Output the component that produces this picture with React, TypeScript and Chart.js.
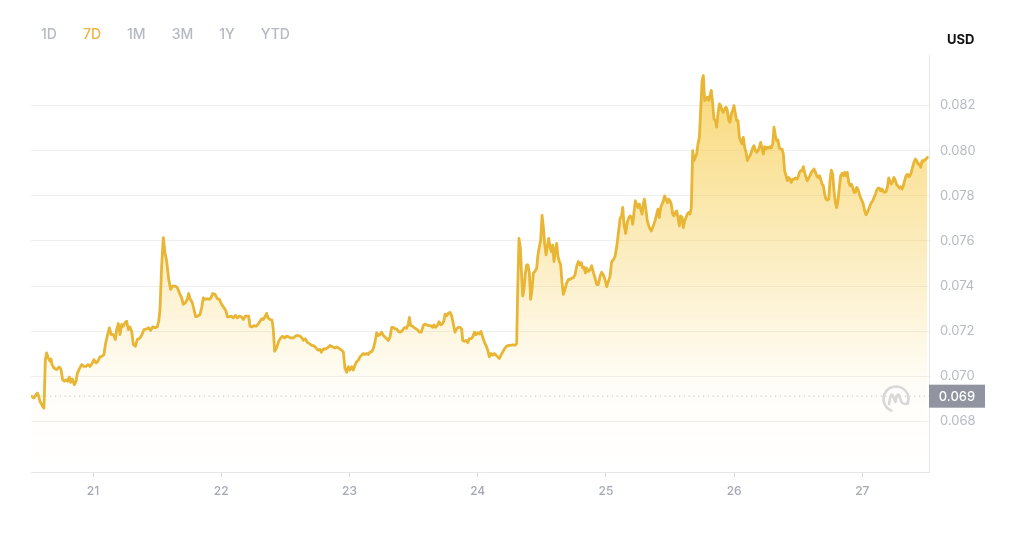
import React, { useEffect, useRef } from "react";
import { Chart, registerables } from "chart.js";

Chart.register(...registerables);

const rangeButtons = ["1D", "7D", "1M", "3M", "1Y", "YTD"];
const activeRange = "7D";
const currency = "USD";
const xTickDays = [21, 22, 23, 24, 25, 26, 27];
const yTickValues = [0.068, 0.07, 0.072, 0.074, 0.076, 0.078, 0.08, 0.082];
const xRange = [20.516, 27.52];
const yRange = [0.06576, 0.08424];
const openPrice = 0.06912;

const seg1Times = [20.521,20.539,20.555,20.565,20.576,20.586,20.607,20.617,20.628,20.638,20.651,20.664,20.672,20.680,20.695,20.716,20.737,20.750,20.763,20.776,20.789,20.802,20.815,20.825,20.838,20.854,20.867,20.877,20.893,20.911,20.929,20.945,20.960,20.976,20.992,21.007,21.023,21.038,21.054,21.070,21.085,21.096,21.111,21.127,21.142,21.158,21.174,21.184,21.197,21.210,21.223,21.236,21.249,21.262,21.275,21.288,21.301,21.314,21.330,21.345,21.366,21.382,21.397,21.418,21.434,21.449,21.465,21.483,21.501,21.512,21.522,21.535,21.548,21.561,21.574,21.590,21.605,21.621,21.642,21.657,21.673,21.691,21.704,21.720,21.735,21.746,21.759,21.774,21.787,21.800,21.816,21.834,21.847,21.860,21.876,21.891,21.907,21.920,21.933,21.951,21.969,21.985,22.003,22.021,22.037,22.047,22.063,22.078,22.094,22.110,22.125,22.141,22.156,22.172,22.188,22.203,22.214,22.224,22.240,22.255,22.271,22.286,22.302,22.315,22.328,22.344,22.354,22.364,22.380,22.396,22.406,22.416,22.432,22.448,22.463,22.479,22.494,22.510,22.526,22.541,22.562,22.578,22.593,22.614,22.630,22.640,22.656,22.671,22.687,22.708,22.723,22.739,22.754,22.770,22.780,22.796,22.812,22.827,22.843];
const seg1Prices = [0.06911,0.06904,0.06919,0.06926,0.06911,0.06889,0.06867,0.06859,0.07074,0.07104,0.07081,0.07067,0.07077,0.07052,0.07037,0.07030,0.07041,0.07030,0.06985,0.06978,0.06985,0.06978,0.06997,0.06973,0.06988,0.06963,0.06978,0.07012,0.07033,0.07052,0.07044,0.07044,0.07052,0.07044,0.07056,0.07074,0.07059,0.07067,0.07086,0.07089,0.07096,0.07141,0.07178,0.07215,0.07185,0.07185,0.07163,0.07207,0.07234,0.07185,0.07230,0.07222,0.07237,0.07244,0.07207,0.07219,0.07200,0.07141,0.07133,0.07163,0.07170,0.07185,0.07207,0.07210,0.07215,0.07204,0.07219,0.07215,0.07219,0.07244,0.07296,0.07489,0.07615,0.07548,0.07511,0.07430,0.07385,0.07400,0.07400,0.07393,0.07370,0.07348,0.07319,0.07326,0.07341,0.07367,0.07341,0.07326,0.07296,0.07264,0.07267,0.07274,0.07304,0.07348,0.07341,0.07344,0.07341,0.07348,0.07367,0.07363,0.07344,0.07341,0.07319,0.07304,0.07289,0.07264,0.07264,0.07267,0.07259,0.07270,0.07259,0.07267,0.07264,0.07252,0.07267,0.07267,0.07267,0.07222,0.07219,0.07225,0.07222,0.07230,0.07244,0.07255,0.07252,0.07267,0.07279,0.07259,0.07252,0.07249,0.07207,0.07111,0.07126,0.07156,0.07170,0.07178,0.07170,0.07178,0.07175,0.07170,0.07170,0.07178,0.07181,0.07178,0.07170,0.07160,0.07166,0.07151,0.07145,0.07136,0.07136,0.07126,0.07116,0.07119,0.07107,0.07121,0.07121,0.07126,0.07133];

const seg2Times = [22.848,22.869,22.887,22.905,22.921,22.939,22.952,22.965,22.978,22.991,23.004,23.017,23.030,23.043,23.056,23.069,23.082,23.095,23.108,23.121,23.134,23.147,23.160,23.173,23.186,23.199,23.212,23.225,23.238,23.251,23.264,23.277,23.290,23.303,23.316,23.329,23.342,23.355,23.368,23.381,23.394,23.407,23.420,23.433,23.446,23.459,23.467,23.477,23.493,23.511,23.529,23.545,23.560,23.576,23.589,23.602,23.618,23.633,23.649,23.659,23.670,23.685,23.698,23.711,23.724,23.737,23.745,23.758,23.771,23.784,23.797,23.810,23.823,23.836,23.849,23.862,23.875,23.883,23.896,23.909,23.922,23.935,23.948,23.961,23.974,23.987,24.000,24.013,24.026,24.039,24.052,24.065,24.078,24.091,24.104,24.117,24.130,24.143,24.156,24.169,24.179,24.195,24.210,24.226,24.242,24.257,24.273,24.291,24.304,24.312,24.322,24.333,24.343,24.351,24.361,24.372,24.382,24.392,24.403,24.413,24.424,24.434,24.447,24.460,24.470,24.481,24.491,24.502,24.512,24.522,24.533,24.543,24.554,24.564,24.574,24.585,24.595,24.606,24.616,24.626,24.637,24.647,24.658,24.668,24.681,24.694,24.707,24.720,24.733,24.746,24.759,24.772,24.785,24.798,24.808,24.819,24.829,24.840,24.850,24.863,24.876,24.889,24.902,24.915,24.928,24.941,24.954,24.967,24.980,24.993,25.006,25.019,25.032,25.045,25.058,25.071,25.084,25.097,25.110,25.123,25.131,25.141,25.154,25.167,25.180];
const seg2Prices = [0.07137,0.07130,0.07126,0.07130,0.07123,0.07116,0.07108,0.07035,0.07018,0.07043,0.07028,0.07043,0.07028,0.07050,0.07065,0.07072,0.07086,0.07094,0.07101,0.07097,0.07101,0.07097,0.07108,0.07108,0.07123,0.07152,0.07193,0.07181,0.07184,0.07196,0.07181,0.07174,0.07167,0.07159,0.07174,0.07217,0.07217,0.07210,0.07210,0.07199,0.07196,0.07199,0.07210,0.07217,0.07213,0.07232,0.07261,0.07225,0.07222,0.07213,0.07207,0.07196,0.07196,0.07225,0.07232,0.07228,0.07225,0.07225,0.07217,0.07228,0.07217,0.07225,0.07242,0.07228,0.07232,0.07247,0.07276,0.07268,0.07280,0.07283,0.07268,0.07232,0.07196,0.07210,0.07217,0.07217,0.07210,0.07159,0.07155,0.07159,0.07149,0.07167,0.07167,0.07174,0.07196,0.07184,0.07193,0.07188,0.07199,0.07174,0.07152,0.07137,0.07116,0.07086,0.07101,0.07094,0.07101,0.07094,0.07086,0.07079,0.07091,0.07108,0.07123,0.07134,0.07137,0.07137,0.07140,0.07137,0.07145,0.07385,0.07611,0.07567,0.07443,0.07356,0.07385,0.07458,0.07494,0.07494,0.07458,0.07341,0.07385,0.07458,0.07465,0.07480,0.07538,0.07574,0.07603,0.07713,0.07662,0.07589,0.07538,0.07574,0.07611,0.07574,0.07552,0.07582,0.07509,0.07560,0.07589,0.07531,0.07509,0.07494,0.07414,0.07363,0.07385,0.07414,0.07429,0.07429,0.07436,0.07436,0.07450,0.07487,0.07509,0.07494,0.07504,0.07480,0.07484,0.07458,0.07480,0.07465,0.07472,0.07490,0.07461,0.07436,0.07407,0.07407,0.07443,0.07461,0.07450,0.07429,0.07397,0.07421,0.07443,0.07509,0.07516,0.07531,0.07574,0.07633,0.07698,0.07713,0.07749,0.07676,0.07633,0.07683,0.07705];

const seg3Times = [25.188,25.201,25.209,25.219,25.230,25.240,25.250,25.261,25.271,25.282,25.292,25.300,25.310,25.323,25.339,25.354,25.370,25.383,25.396,25.406,25.417,25.427,25.438,25.448,25.458,25.469,25.479,25.490,25.500,25.510,25.521,25.531,25.542,25.552,25.562,25.573,25.583,25.594,25.604,25.614,25.625,25.635,25.646,25.656,25.666,25.677,25.687,25.698,25.708,25.718,25.729,25.739,25.750,25.760,25.770,25.781,25.791,25.802,25.812,25.822,25.833,25.843,25.854,25.864,25.874,25.885,25.895,25.906,25.916,25.926,25.937,25.947,25.958,25.968,25.978,25.989,25.999,26.010,26.020,26.030,26.041,26.051,26.062,26.072,26.082,26.093,26.103,26.114,26.124,26.134,26.145,26.155,26.166,26.176,26.186,26.197,26.207,26.218,26.228,26.238,26.249,26.259,26.270,26.280,26.290,26.301,26.311,26.322,26.332,26.342,26.353,26.363,26.374,26.384,26.394,26.405,26.415,26.426,26.436,26.446,26.457,26.467,26.478,26.488,26.498,26.509,26.519,26.530,26.540,26.550,26.561,26.571,26.582,26.592,26.602,26.613,26.623,26.634,26.644,26.654,26.665,26.675,26.686,26.696,26.706,26.717,26.727,26.738,26.748,26.758,26.769,26.779,26.790,26.800,26.810,26.821,26.831,26.842,26.852,26.862,26.873,26.883,26.894,26.904,26.914,26.925,26.935,26.946,26.956,26.966,26.977,26.987,26.998,27.008,27.018,27.029,27.039,27.050,27.060,27.070,27.081,27.091,27.102,27.112,27.122,27.133,27.143,27.154,27.164,27.174,27.185,27.195,27.206,27.216,27.226,27.237,27.247,27.258,27.268,27.278,27.289,27.299,27.310,27.320,27.330,27.341,27.351,27.362,27.372,27.382,27.393,27.403,27.414,27.424,27.434,27.445,27.455,27.466,27.476,27.486,27.497,27.507];
const seg3Prices = [0.07711,0.07704,0.07674,0.07726,0.07778,0.07763,0.07748,0.07763,0.07741,0.07719,0.07763,0.07785,0.07748,0.07689,0.07659,0.07644,0.07667,0.07689,0.07719,0.07741,0.07704,0.07748,0.07763,0.07778,0.07800,0.07785,0.07770,0.07785,0.07778,0.07763,0.07719,0.07711,0.07726,0.07733,0.07704,0.07667,0.07711,0.07704,0.07659,0.07689,0.07704,0.07719,0.07726,0.07719,0.07748,0.08000,0.07956,0.07970,0.07985,0.08030,0.08059,0.08178,0.08311,0.08333,0.08222,0.08230,0.08237,0.08222,0.08244,0.08267,0.08207,0.08141,0.08133,0.08104,0.08163,0.08207,0.08200,0.08178,0.08170,0.08185,0.08193,0.08178,0.08133,0.08126,0.08163,0.08178,0.08200,0.08163,0.08133,0.08133,0.08059,0.08044,0.08030,0.08059,0.08015,0.07993,0.07956,0.07970,0.07978,0.07993,0.08012,0.08022,0.08000,0.07993,0.08000,0.08015,0.08037,0.08007,0.07985,0.08018,0.08007,0.08015,0.08012,0.08018,0.08012,0.08030,0.08104,0.08067,0.08044,0.08047,0.08012,0.08007,0.08007,0.07985,0.07911,0.07889,0.07867,0.07881,0.07874,0.07859,0.07874,0.07874,0.07879,0.07874,0.07881,0.07904,0.07911,0.07911,0.07929,0.07904,0.07881,0.07867,0.07879,0.07889,0.07904,0.07911,0.07919,0.07904,0.07889,0.07881,0.07889,0.07874,0.07852,0.07844,0.07807,0.07785,0.07781,0.07785,0.07867,0.07914,0.07896,0.07822,0.07770,0.07748,0.07778,0.07837,0.07889,0.07899,0.07889,0.07904,0.07889,0.07904,0.07859,0.07844,0.07852,0.07837,0.07815,0.07815,0.07837,0.07830,0.07807,0.07790,0.07778,0.07763,0.07733,0.07716,0.07726,0.07741,0.07756,0.07770,0.07778,0.07793,0.07807,0.07825,0.07834,0.07834,0.07822,0.07830,0.07819,0.07815,0.07819,0.07837,0.07879,0.07864,0.07852,0.07864,0.07881,0.07867,0.07849,0.07844,0.07834,0.07840,0.07830,0.07844,0.07867,0.07889,0.07896,0.07884,0.07889,0.07904,0.07929,0.07948,0.07963,0.07956,0.07941,0.07941,0.07926,0.07956,0.07953,0.07959,0.07963,0.07970];

const times = [...seg1Times, ...seg2Times, ...seg3Times];
const prices = [...seg1Prices, ...seg2Prices, ...seg3Prices];

const overlayPlugin = {
  id: "overlay",
  afterDatasetsDraw(chart: any) {
    const { ctx, chartArea, scales } = chart;
    // watermark logo
    const cx = chartArea.right - 33;
    const cy = chartArea.bottom - 73;
    ctx.save();
    ctx.strokeStyle = "#d8d8d8";
    ctx.lineWidth = 2.6;
    ctx.lineCap = "round";
    ctx.lineJoin = "round";
    ctx.beginPath();
    ctx.arc(cx, cy, 12.5, 0.62 * Math.PI, 2.12 * Math.PI, false);
    ctx.stroke();
    ctx.beginPath();
    ctx.moveTo(cx - 7, cy + 5);
    ctx.quadraticCurveTo(cx - 5.5, cy - 6, cx - 3.5, cy - 4);
    ctx.lineTo(cx - 0.5, cy + 3);
    ctx.quadraticCurveTo(cx + 1, cy - 6, cx + 3, cy - 4);
    ctx.lineTo(cx + 5.5, cy + 3);
    ctx.quadraticCurveTo(cx + 8, cy + 6, cx + 11.5, cy + 4.5);
    ctx.stroke();
    ctx.restore();

    // price badge
    const y = scales.y.getPixelForValue(openPrice);
    ctx.save();
    ctx.fillStyle = "#8f94a0";
    ctx.fillRect(chartArea.right, y - 11.5, 56, 23);
    ctx.fillStyle = "#ffffff";
    ctx.font = "500 13px Inter";
    ctx.textAlign = "center";
    ctx.textBaseline = "middle";
    ctx.fillText(openPrice.toFixed(3), chartArea.right + 28, y + 0.5);
    ctx.restore();
  },
};

export default function App() {
  const canvasRef = useRef<HTMLCanvasElement | null>(null);

  useEffect(() => {
    if (!canvasRef.current) return;
    Chart.defaults.font.family = "Inter";
    const lineData = times.map((t, i) => ({ x: t, y: prices[i] }));
    const chart = new Chart(canvasRef.current, {
      type: "line",
      data: {
        datasets: [
          {
            data: [
              { x: xRange[0], y: openPrice },
              { x: xRange[1], y: openPrice },
            ],
            borderColor: "#c2c2c2",
            borderWidth: 1,
            borderDash: [1.2, 3.6],
            pointRadius: 0,
            fill: false,
            order: 2,
          },
          {
            data: lineData,
            borderColor: "#e8b634",
            borderWidth: 2.8,
            borderJoinStyle: "round",
            borderCapStyle: "round",
            pointRadius: 0,
            tension: 0,
            fill: "start",
            order: 1,
            backgroundColor: (c: any) => {
              const area = c.chart.chartArea;
              if (!area) return "rgba(246,200,60,0.3)";
              const g = c.chart.ctx.createLinearGradient(0, area.top, 0, area.bottom);
              g.addColorStop(0, "rgba(245,198,55,0.72)");
              g.addColorStop(0.8, "rgba(245,198,55,0.03)");
              g.addColorStop(1, "rgba(245,198,55,0)");
              return g;
            },
          },
        ],
      },
      options: {
        animation: false,
        responsive: false,
        events: [],
        layout: { padding: { left: 31, top: 55, right: 0, bottom: 0 } },
        plugins: { legend: { display: false }, tooltip: { enabled: false } },
        scales: {
          x: {
            type: "linear",
            min: xRange[0],
            max: xRange[1],
            afterBuildTicks: (s: any) => {
              s.ticks = xTickDays.map((v) => ({ value: v }));
            },
            afterFit: (s: any) => {
              s.height = 68;
            },
            ticks: {
              color: "#a3a9b4",
              font: { size: 12, weight: "500" },
              padding: 7,
              maxRotation: 0,
              callback: (v: any) => String(v),
            },
            grid: { drawOnChartArea: false, drawTicks: true, tickLength: 5, color: "#d9d9d9" },
            border: { display: true, color: "#e6e6e6" },
          },
          y: {
            type: "linear",
            position: "right",
            min: yRange[0],
            max: yRange[1],
            afterBuildTicks: (s: any) => {
              s.ticks = yTickValues.map((v) => ({ value: v }));
            },
            afterFit: (s: any) => {
              s.width = 91;
            },
            ticks: {
              color: "#b6bbc4",
              font: { size: 13 },
              padding: 11,
              callback: (v: any) => Number(v).toFixed(3),
            },
            grid: { drawTicks: false, color: "#efefef" },
            border: { display: true, color: "#e6e6e6" },
          },
        },
      },
      plugins: [overlayPlugin],
    });
    return () => chart.destroy();
  }, []);

  return (
    <div style={{ position: "fixed", left: 0, top: 0, width: 1020, height: 540, background: "#fff", fontFamily: "Inter, sans-serif" }}>
      <canvas ref={canvasRef} width={1020} height={540} style={{ position: "absolute", left: 0, top: 0 }} />
      <div style={{ position: "absolute", left: 41, top: 25, display: "flex", gap: 26, fontSize: 14, lineHeight: "18px", fontWeight: 500 }}>
        {rangeButtons.map((b) => (
          <span key={b} style={{ color: b === activeRange ? "#ebb443" : "#b4b9c3" }}>{b}</span>
        ))}
      </div>
      <div style={{ position: "absolute", left: 947, top: 31, fontSize: 13, fontWeight: 700, color: "#111", lineHeight: "16px" }}>{currency}</div>
    </div>
  );
}
